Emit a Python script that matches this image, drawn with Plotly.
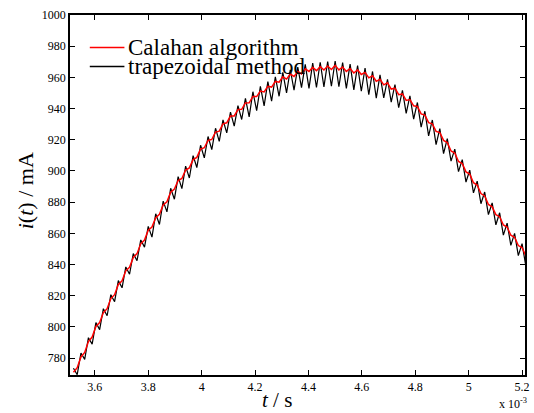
import plotly.graph_objects as go

# time samples (x 10^-3 s)
t_ms = [3.520, 3.534, 3.548, 3.562, 3.576, 3.590, 3.604, 3.618, 3.632, 3.646,
        3.660, 3.674, 3.688, 3.702, 3.716, 3.730, 3.744, 3.758, 3.772, 3.786,
        3.800, 3.814, 3.828, 3.842, 3.856, 3.870, 3.884, 3.898, 3.912, 3.926,
        3.940, 3.954, 3.968, 3.982, 3.996, 4.010, 4.024, 4.038, 4.052, 4.066,
        4.080, 4.094, 4.108, 4.122, 4.136, 4.150, 4.164, 4.178, 4.192, 4.206,
        4.220, 4.234, 4.248, 4.262, 4.276, 4.290, 4.304, 4.318, 4.332, 4.346,
        4.360, 4.374, 4.388, 4.402, 4.416, 4.430, 4.444, 4.458, 4.472, 4.486,
        4.500, 4.514, 4.528, 4.542, 4.556, 4.570, 4.584, 4.598, 4.612, 4.626,
        4.640, 4.654, 4.668, 4.682, 4.696, 4.710, 4.724, 4.738, 4.752, 4.766,
        4.780, 4.794, 4.808, 4.822, 4.836, 4.850, 4.864, 4.878, 4.892, 4.906,
        4.920, 4.934, 4.948, 4.962, 4.976, 4.990, 5.004, 5.018, 5.032, 5.046,
        5.060, 5.074, 5.088, 5.102, 5.116, 5.130, 5.144, 5.158, 5.172, 5.186,
        5.200, 5.214]

# Calahan algorithm current (mA)
calahan = [771.0, 773.9, 780.8, 783.7, 790.6, 793.5, 800.3, 802.8, 809.2, 811.7,
           818.2, 820.7, 827.2, 829.6, 836.0, 838.3, 844.6, 847.0, 853.3, 855.7,
           862.0, 864.1, 870.1, 872.2, 878.2, 880.3, 886.4, 888.4, 893.9, 895.2,
           900.6, 902.0, 907.3, 908.7, 914.0, 914.9, 919.6, 920.2, 924.9, 925.5,
           930.2, 930.9, 935.2, 935.3, 939.4, 939.5, 943.6, 943.7, 947.8, 947.7,
           951.2, 950.7, 954.3, 953.8, 957.4, 956.9, 960.4, 958.9, 962.1, 960.6,
           963.8, 962.2, 965.5, 963.8, 966.4, 964.3, 966.9, 964.7, 967.3, 965.1,
           967.7, 964.8, 966.7, 963.8, 965.7, 962.8, 964.8, 961.9, 963.2, 959.7,
           961.0, 957.5, 958.8, 955.2, 956.5, 952.5, 953.1, 948.9, 949.4, 945.2,
           945.8, 941.8, 941.4, 936.6, 935.8, 931.0, 930.2, 925.4, 924.6, 919.6,
           918.2, 912.8, 911.5, 906.1, 904.8, 899.4, 898.0, 892.5, 891.0, 885.5,
           884.0, 878.5, 877.0, 872.0, 870.7, 865.4, 864.1, 858.8, 857.5, 852.2,
           850.9, 845.6]

# trapezoidal method current (mA)
trapezoidal = [773.5, 769.4, 783.3, 779.2, 793.1, 789.0, 802.8, 798.3, 811.7, 807.2,
               820.7, 816.2, 829.7, 825.1, 838.5, 833.8, 847.1, 842.5, 855.8, 851.2,
               864.5, 857.6, 872.6, 865.7, 880.7, 873.8, 888.9, 881.9, 896.4, 888.7,
               903.1, 895.5, 909.8, 902.2, 916.5, 908.4, 922.1, 913.7, 927.4, 919.0,
               932.7, 924.4, 937.7, 928.8, 941.9, 933.0, 946.6, 934.7, 950.8, 938.7,
               954.2, 941.7, 957.3, 944.8, 960.4, 947.9, 963.2, 950.1, 964.9, 951.8,
               966.6, 953.4, 968.3, 953.0, 969.2, 953.5, 969.7, 953.9, 970.1, 954.3,
               970.5, 954.0, 969.5, 953.0, 968.5, 952.0, 967.6, 951.1, 966.0, 948.9,
               963.8, 946.7, 961.6, 946.9, 958.8, 944.2, 955.4, 940.6, 951.7, 936.9,
               948.1, 933.3, 943.9, 928.1, 938.3, 922.5, 932.7, 916.9, 927.1, 911.1,
               920.7, 906.3, 914.0, 899.6, 907.3, 892.9, 900.5, 886.0, 893.5, 879.0,
               886.5, 872.0, 879.5, 865.5, 873.2, 858.9, 866.6, 852.3, 860.0, 845.7,
               853.4, 839.1]

x_tickvals = [3.6, 3.8, 4.0, 4.2, 4.4, 4.6, 4.8, 5.0, 5.2]
x_ticktext = ["3.6", "3.8", "4", "4.2", "4.4", "4.6", "4.8", "5", "5.2"]
y_tickvals = [780, 800, 820, 840, 860, 880, 900, 920, 940, 960, 980, 1000]

series_names = ["Calahan algorithm", "trapezoidal method"]
series_colors = ["#ff0000", "#000000"]

SERIF = "Liberation Serif, Times New Roman, serif"

fig = go.Figure()
fig.add_trace(go.Scatter(x=t_ms, y=trapezoidal, mode="lines", name=series_names[1],
                         line=dict(color=series_colors[1], width=1.2), showlegend=False))
fig.add_trace(go.Scatter(x=t_ms, y=calahan, mode="lines", name=series_names[0],
                         line=dict(color=series_colors[0], width=1.5), showlegend=False))

axis_common = dict(showline=True, linecolor="black", linewidth=1.5, mirror="ticks",
                   ticks="inside", ticklen=5, tickwidth=1, tickcolor="black",
                   showgrid=False, zeroline=False,
                   tickfont=dict(family=SERIF, size=12, color="black"))

fig.update_xaxes(range=[3.507, 5.211], tickvals=x_tickvals, ticktext=x_ticktext, **axis_common)
fig.update_yaxes(range=[769.2, 1000], tickvals=y_tickvals, **axis_common)

# legend drawn manually (transparent, no box)
leg_y = [0.9096, 0.8567]
for i, (nm, col) in enumerate(zip(series_names, series_colors)):
    fig.add_shape(type="line", xref="paper", yref="paper", x0=0.0435, x1=0.1196,
                  y0=leg_y[i], y1=leg_y[i], line=dict(color=col, width=1.5))
    fig.add_annotation(xref="paper", yref="paper", x=0.1220, y=leg_y[i], text=nm,
                       showarrow=False, xanchor="left", yanchor="middle",
                       font=dict(family=SERIF, size=23, color="black"))

fig.add_annotation(xref="paper", yref="paper", x=0.4543, y=-0.069,
                   text="<i>t</i> / s", showarrow=False, xanchor="center", yanchor="middle",
                   font=dict(family=SERIF, size=21, color="black"))
fig.add_annotation(xref="paper", yref="paper", x=-0.0978, y=0.5118,
                   text="<i>i</i>(<i>t</i>) / mA", showarrow=False, textangle=-90,
                   xanchor="center", yanchor="middle",
                   font=dict(family=SERIF, size=22, color="black"))
fig.add_annotation(xref="paper", yref="paper", x=0.938, y=-0.080,
                   text="x 10<sup>-3</sup>", showarrow=False, xanchor="left", yanchor="middle",
                   font=dict(family=SERIF, size=12, color="black"))

fig.update_layout(width=534, height=413, margin=dict(l=70, r=4, t=15, b=38),
                  plot_bgcolor="white", paper_bgcolor="white")

fig.write_html("out.html")
